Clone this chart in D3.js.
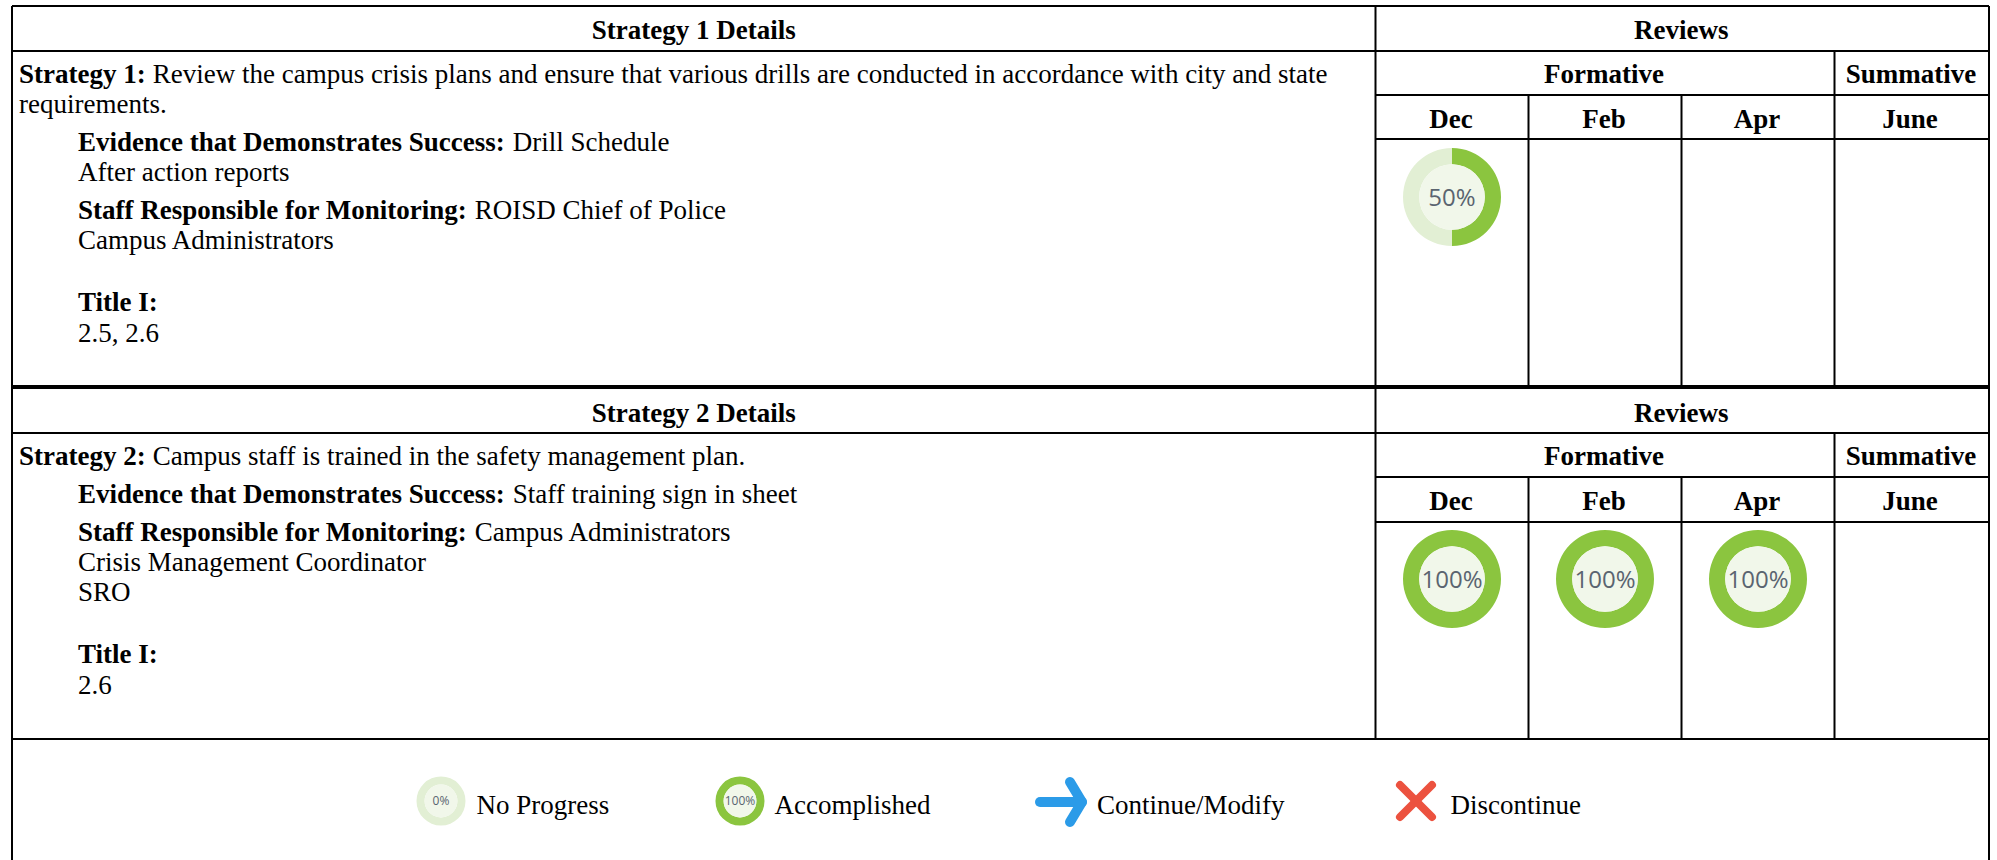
<!DOCTYPE html>
<html>
<head>
<meta charset="utf-8">
<style>
html, body { margin: 0; padding: 0; background: #fff; overflow: hidden; }
text { font-family: "Liberation Serif", "Times New Roman", serif; fill: #000; }
</style>
<script src="https://cdn.jsdelivr.net/npm/d3@7"></script>
</head>
<body>
<svg id="chart" width="1997" height="860"></svg>
<script>
var months = ["Dec", "Feb", "Apr", "June"];
var strategyNames = ["Strategy 1", "Strategy 2"];
var strategyText = [
    ["Review the campus crisis plans and ensure that various drills are conducted in accordance with city and state", "requirements."],
    ["Campus staff is trained in the safety management plan."]
];
var evidence = [
    ["Drill Schedule", "After action reports"],
    ["Staff training sign in sheet"]
];
var staff = [
    ["ROISD Chief of Police", "Campus Administrators"],
    ["Campus Administrators", "Crisis Management Coordinator", "SRO"]
];
var titleOne = ["2.5, 2.6", "2.6"];
var reviewValues = [
    [50, null, null, null],
    [100, 100, 100, null]
];
var legendLabels = ["No Progress", "Accomplished", "Continue/Modify", "Discontinue"];

var svg = d3.select("#chart");
var left = 12, right = 1989, split = 1375.5;
var x = d3.scaleBand().domain(months).range([split, 1987.5]);
var fontSize = 27;

var green = "#8bc53f", pale = "#e2efd4", centre = "#f1f7ea";
var arc = d3.arc();
var pie = d3.pie().sort(null);

function line(x1, y1, x2, y2, w) {
    svg.append("line")
        .attr("x1", x1).attr("y1", y1).attr("x2", x2).attr("y2", y2)
        .attr("stroke", "#000").attr("stroke-width", w || 2);
}

function label(str, px, py, opts) {
    opts = opts || {};
    return svg.append("text")
        .attr("x", px).attr("y", py)
        .attr("text-anchor", opts.anchor || "start")
        .attr("font-size", opts.size || fontSize)
        .attr("font-weight", opts.bold ? "bold" : "normal")
        .text(str);
}

// label in bold followed by normal text
function boldThenNormal(b, n, px, py) {
    var t = label(b, px, py, { bold: true });
    var w = t.node().getComputedTextLength();
    label(n, px + w + 8, py);
}

function donut(cx, cy, rOuter, value, size) {
    var g = svg.append("g").attr("transform", "translate(" + cx + "," + cy + ")");
    var slices = pie([value, 100 - value]);
    g.selectAll("path")
        .data(slices)
        .enter().append("path")
        .attr("d", function(d) {
            return arc({ innerRadius: rOuter * 0.67, outerRadius: rOuter, startAngle: d.startAngle, endAngle: d.endAngle });
        })
        .attr("fill", function(d, i) { return i == 0 ? green : pale; });
    g.append("circle").attr("r", rOuter * 0.67).attr("fill", centre);
    g.append("text")
        .attr("text-anchor", "middle")
        .attr("dy", "0.36em")
        .attr("font-size", size)
        .style("font-family", "'Open Sans', sans-serif")
        .style("fill", "#5a6470")
        .text(value + "%");
}

function drawBlock(i, top) {
    var rows = i == 0
        ? { head: top + 45, sub: top + 89, month: top + 133, bottom: top + 381 }
        : { head: top + 46, sub: top + 90, month: top + 135, bottom: top + 352 };

    var headY = i == 0 ? top + 33 : top + 35;
    label(strategyNames[i] + " Details", (left + split) / 2, headY, { anchor: "middle", bold: true });
    label("Reviews", (split + right) / 2 - 1, headY, { anchor: "middle", bold: true });
    label("Formative", (x("Dec") + x("June")) / 2 - 1, rows.head + 32, { anchor: "middle", bold: true });
    label("Summative", x("June") + x.bandwidth() / 2, rows.head + 32, { anchor: "middle", bold: true });

    months.forEach(function(m) {
        label(m, x(m) + x.bandwidth() / 2 - 1, rows.sub + 33, { anchor: "middle", bold: true });
    });

    // horizontal rules
    line(left, rows.head, right, rows.head);
    line(split, rows.sub, right, rows.sub);
    line(split, rows.month, right, rows.month);

    // vertical rules
    line(split, top, split, rows.bottom);
    line(x("June"), rows.head, x("June"), rows.bottom);
    line(x("Feb"), rows.sub, x("Feb"), rows.bottom);
    line(x("Apr"), rows.sub, x("Apr"), rows.bottom);

    // strategy text
    var y = rows.head + 32;
    var t = label(strategyNames[i] + ":", left + 7, y, { bold: true });
    label(strategyText[i][0], left + 7 + t.node().getComputedTextLength() + 7, y);
    if (strategyText[i][1]) {
        y += 30;
        label(strategyText[i][1], left + 7, y);
    }

    var indent = 78;
    y += 38;
    boldThenNormal("Evidence that Demonstrates Success:", evidence[i][0], indent, y);
    evidence[i].slice(1).forEach(function(s) {
        y += 30;
        label(s, indent, y);
    });
    y += 38;
    boldThenNormal("Staff Responsible for Monitoring:", staff[i][0], indent, y);
    staff[i].slice(1).forEach(function(s) {
        y += 30;
        label(s, indent, y);
    });
    y += 62;
    label("Title I:", indent, y, { bold: true });
    y += 31;
    label(titleOne[i], indent, y);

    // review donuts
    reviewValues[i].forEach(function(v, k) {
        if (v === null) return;
        donut(x(months[k]) + x.bandwidth() / 2, rows.month + (i == 0 ? 58 : 57), 49, v, 24);
    });
}

// outer frame
line(left, 6, right, 6);
line(left, 6, left, 860);
line(right, 6, right, 860);

drawBlock(0, 6);
line(left, 387, right, 387, 4);
drawBlock(1, 387);
line(left, 739, right, 739);

// legend
var legendY = 801;
donut(441, legendY, 24.5, 0, 12);
label(legendLabels[0], 476.5, legendY + 12.5);
donut(740, legendY, 24.5, 100, 12);
label(legendLabels[1], 774.5, legendY + 12.5);

var arrow = d3.line();
svg.append("path")
    .attr("d", arrow([[1040, 802], [1082, 802]]))
    .attr("stroke", "#2b9be8").attr("stroke-width", 10).attr("stroke-linecap", "round").attr("fill", "none");
svg.append("path")
    .attr("d", arrow([[1070, 782], [1082, 802], [1070, 822]]))
    .attr("stroke", "#2b9be8").attr("stroke-width", 10).attr("stroke-linecap", "round").attr("stroke-linejoin", "round").attr("fill", "none");
label(legendLabels[2], 1097, legendY + 12.5);

[[[1400, 785], [1432, 817]], [[1432, 785], [1400, 817]]].forEach(function(seg) {
    svg.append("path")
        .attr("d", arrow(seg))
        .attr("stroke", "#ec523f").attr("stroke-width", 8).attr("stroke-linecap", "round").attr("fill", "none");
});
label(legendLabels[3], 1450.5, legendY + 12.5);
</script>
</body>
</html>
